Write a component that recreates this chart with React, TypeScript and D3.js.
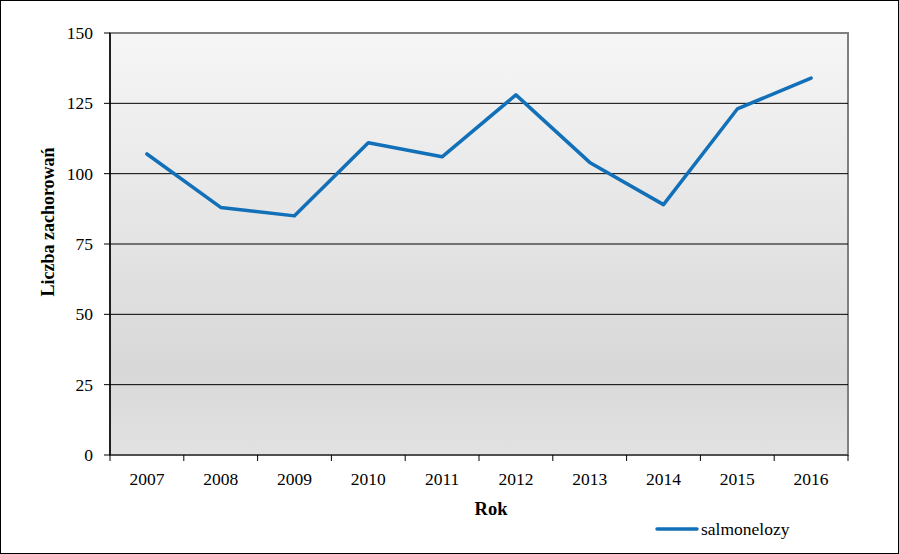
import React from "react";
import * as d3 from "d3";

const years = ["2007", "2008", "2009", "2010", "2011", "2012", "2013", "2014", "2015", "2016"];
const salmonelozy = [107, 88, 85, 111, 106, 128, 104, 89, 123, 134];
const yTicks = [0, 25, 50, 75, 100, 125, 150];
const seriesName = "salmonelozy";
const xTitle = "Rok";
const yTitle = "Liczba zachorowań";

const W = 899;
const H = 554;
const plot = { left: 110, right: 848, top: 33, bottom: 455 };
const FONT = "Liberation Serif";
const BLUE = "#1170b8";
const tf = { fontFamily: FONT };

export default function App() {
  const x = d3.scaleBand<string>().domain(years).range([plot.left, plot.right]);
  const y = d3.scaleLinear().domain([0, 150]).range([plot.bottom, plot.top]);
  const line = d3
    .line<number>()
    .x((_, i) => (x(years[i]) as number) + x.bandwidth() / 2)
    .y((d) => y(d));
  const boundaries = years.map((yr) => x(yr) as number).concat([plot.right]);

  return (
    <svg width={W} height={H} style={{ position: "absolute", left: 0, top: 0, background: "#fff" }}>
      <defs>
        <linearGradient id="bg" x1="0" y1="0" x2="0" y2="1">
          <stop offset="0" stopColor="#f6f6f6" />
          <stop offset="0.8" stopColor="#d8d8d8" />
          <stop offset="1" stopColor="#e2e2e2" />
        </linearGradient>
      </defs>
      <rect x={0.5} y={0.5} width={W - 1} height={H - 1} fill="#fff" stroke="#000" />
      <rect
        x={plot.left}
        y={plot.top}
        width={plot.right - plot.left}
        height={plot.bottom - plot.top}
        fill="url(#bg)"
        stroke="#808080"
        strokeWidth={2}
      />
      {yTicks.filter((t) => t > 0 && t < 150).map((t) => (
        <line key={t} x1={plot.left} x2={plot.right} y1={y(t)} y2={y(t)} stroke="#000" strokeWidth={1} />
      ))}
      <line x1={plot.left} x2={plot.right} y1={plot.bottom} y2={plot.bottom} stroke="#404040" strokeWidth={1.5} />
      <line x1={plot.left} x2={plot.left} y1={plot.top} y2={plot.bottom} stroke="#000" strokeWidth={1.5} />
      {yTicks.map((t) => (
        <g key={t}>
          <line x1={plot.left - 6} x2={plot.left} y1={y(t)} y2={y(t)} stroke="#000" />
          <text x={93} y={y(t)} dy="0.35em" textAnchor="end" fontSize={17.5} fill="#000" style={tf}>
            {t}
          </text>
        </g>
      ))}
      {boundaries.map((b, i) => (
        <line key={i} x1={b} x2={b} y1={plot.bottom} y2={plot.bottom + 6} stroke="#000" />
      ))}
      {years.map((yr) => (
        <text
          key={yr}
          x={(x(yr) as number) + x.bandwidth() / 2}
          y={479}
          dy="0.35em"
          textAnchor="middle"
          fontSize={17.5}
          fill="#000"
          style={tf}
        >
          {yr}
        </text>
      ))}
      <path
        d={line(salmonelozy) || ""}
        fill="none"
        stroke={BLUE}
        strokeWidth={3.5}
        strokeLinejoin="round"
        strokeLinecap="round"
      />
      <text x={491} y={509} dy="0.35em" textAnchor="middle" fontSize={18.5} fontWeight="bold" fill="#000" style={tf}>
        {xTitle}
      </text>
      <text
        transform={`translate(48, 222) rotate(-90)`}
        dy="0.35em"
        textAnchor="middle"
        fontSize={18}
        fontWeight="bold"
        fill="#000"
        style={tf}
      >
        {yTitle}
      </text>
      <line x1={657} x2={697} y1={529} y2={529} stroke={BLUE} strokeWidth={3.5} strokeLinecap="round" />
      <text x={701} y={529} dy="0.35em" fontSize={17.5} fill="#000" style={tf}>
        {seriesName}
      </text>
    </svg>
  );
}
